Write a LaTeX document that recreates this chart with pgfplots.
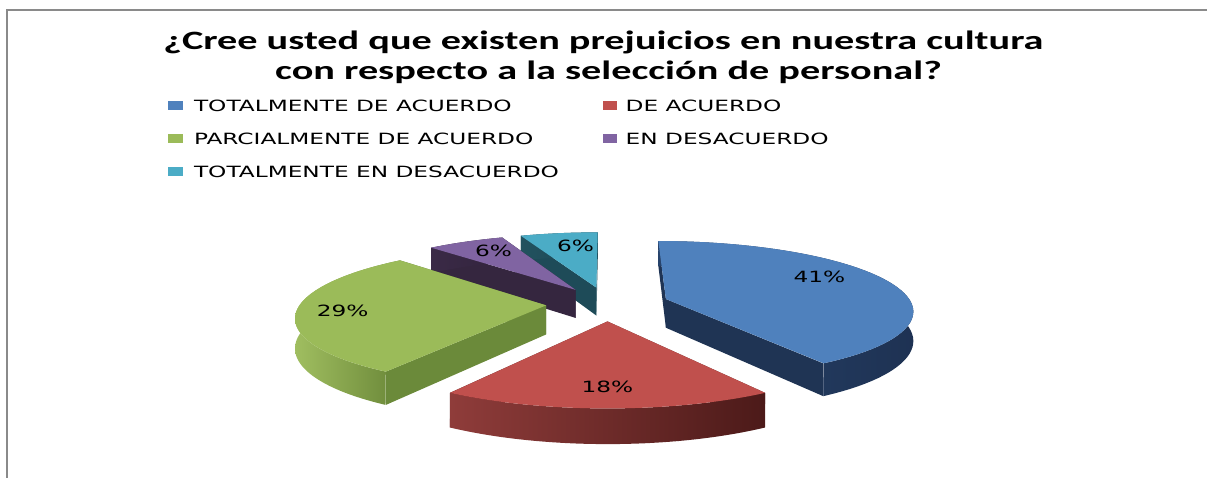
\documentclass[border=0pt]{standalone}
\usepackage{fontspec}
\usepackage{pgfplots}
\pgfplotsset{compat=1.18}
\usepackage{pgfplotstable}
\newfontfamily\titlefont[FakeStretch=1.52]{Carlito}
\newfontfamily\legfont[FakeStretch=1.5]{DejaVu Sans}

\definecolor{topA}{HTML}{4F81BD}\definecolor{sideA}{HTML}{1F3454}\definecolor{wlA}{HTML}{27436B}\definecolor{wrA}{HTML}{1E3253}
\definecolor{topB}{HTML}{C0504D}\definecolor{sideB}{HTML}{5E2322}\definecolor{wlB}{HTML}{8F3C3A}\definecolor{wrB}{HTML}{4C1A19}
\definecolor{topC}{HTML}{9BBB59}\definecolor{sideC}{HTML}{6B8A3A}\definecolor{wlC}{HTML}{A0BE60}\definecolor{wrC}{HTML}{6A8738}
\definecolor{topD}{HTML}{8064A2}\definecolor{sideD}{HTML}{35263F}\definecolor{wlD}{HTML}{3A2A46}\definecolor{wrD}{HTML}{33243E}
\definecolor{topE}{HTML}{4BACC6}\definecolor{sideE}{HTML}{1E4B58}\definecolor{wlE}{HTML}{22525F}\definecolor{wrE}{HTML}{1D4652}
\definecolor{frame}{HTML}{8A8A8A}

% values (percent) and label positions
\pgfplotstableread{
val lx ly
41 820 277
18 608 387
29 343 311
6 494 251
6 576 246
}\piedata

\newcommand\SA[1]{\csname sA#1\endcsname}
\newcommand\SB[1]{\csname sB#1\endcsname}
\newcommand\SU[1]{\csname sU#1\endcsname}
\newcommand\SV[1]{\csname sV#1\endcsname}
\newcommand\ANG[2]{(\SA{#1}+(\SB{#1}-\SA{#1})*(#2))}
\newcommand\XR[2]{PX(\SU{#1}+cos(#2),\SV{#1}+sin(#2))}
\newcommand\YR[3]{PY(\SU{#1}+cos(#2),\SV{#1}+sin(#2),#3)}
\newcommand\XC[1]{PX(\SU{#1},\SV{#1})}
\newcommand\YC[2]{PY(\SU{#1},\SV{#1},#2)}

\newcommand\slice[5]{%
 \fill[#3] ({\XC{#1}},{\YC{#1}{0}}) -- ({\XR{#1}{\SA{#1}}},{\YR{#1}{\SA{#1}}{0}}) -- ({\XR{#1}{\SA{#1}}},{\YR{#1}{\SA{#1}}{1}}) -- ({\XC{#1}},{\YC{#1}{1}}) -- cycle;
 \fill[#3] ({\XC{#1}},{\YC{#1}{0}}) -- ({\XR{#1}{\SB{#1}}},{\YR{#1}{\SB{#1}}{0}}) -- ({\XR{#1}{\SB{#1}}},{\YR{#1}{\SB{#1}}{1}}) -- ({\XC{#1}},{\YC{#1}{1}}) -- cycle;
 \shade[left color=#4,right color=#5] plot[domain=0:1,samples=60,variable=\t] ({\XR{#1}{\ANG{#1}{\t}}},{\YR{#1}{\ANG{#1}{\t}}{0}}) -- plot[domain=0:1,samples=60,variable=\t] ({\XR{#1}{\ANG{#1}{1-\t}}},{\YR{#1}{\ANG{#1}{1-\t}}{1}}) -- cycle;
 \fill[#2] ({\XC{#1}},{\YC{#1}{0}}) -- plot[domain=0:1,samples=60,variable=\t] ({\XR{#1}{\ANG{#1}{\t}}},{\YR{#1}{\ANG{#1}{\t}}{0}}) -- cycle;
}
\newcommand\plabel[1]{\node[font=\legfont\fontsize{15.5}{18}\selectfont,inner sep=0pt] at ({\csname sX#1\endcsname},{\csname sY#1\endcsname}) {\csname sT#1\endcsname\%};}

\begin{document}
\begin{tikzpicture}[declare function={PX(\u,\v)=608+246*(\u)/(1+0.15*(\v));PY(\u,\v,\d)=304+(-68.1*(\v)+29*(\d))/(1+0.15*(\v));}]
\gdef\cum{0}%
\foreach \i in {0,...,4}{%
 \pgfplotstablegetelem{\i}{val}\of\piedata
 \let\myval\pgfplotsretval
 \expandafter\xdef\csname sT\i\endcsname{\myval}%
 \pgfmathsetmacro\aone{90-3.6*\cum}%
 \pgfmathsetmacro\atwo{\aone-3.6*\myval}%
 \pgfmathsetmacro\amid{(\aone+\atwo)/2}%
 \pgfmathsetmacro\ou{0.25*cos(\amid)}%
 \pgfmathsetmacro\ov{0.25*sin(\amid)}%
 \expandafter\xdef\csname sA\i\endcsname{\aone}%
 \expandafter\xdef\csname sB\i\endcsname{\atwo}%
 \expandafter\xdef\csname sU\i\endcsname{\ou}%
 \expandafter\xdef\csname sV\i\endcsname{\ov}%
 \pgfplotstablegetelem{\i}{lx}\of\piedata
 \expandafter\xdef\csname sX\i\endcsname{\pgfplotsretval}%
 \pgfplotstablegetelem{\i}{ly}\of\piedata
 \expandafter\xdef\csname sY\i\endcsname{\pgfplotsretval}%
 \pgfmathsetmacro\nc{\cum+\myval}\xdef\cum{\nc}%
}
\begin{axis}[width=1208pt,height=478pt,scale only axis,hide axis,clip=false,
  xmin=0,xmax=1208,ymin=0,ymax=478,y dir=reverse]
\path (0,0) rectangle (1208,478);
\draw[frame,line width=2pt] (7.5,478) -- (7.5,10) -- (1208,10);
% title
\node[font=\titlefont\bfseries\fontsize{26.5}{30}\selectfont,anchor=base,inner sep=0pt] at (604,49.5) {¿Cree usted que existen prejuicios en nuestra cultura};
\node[font=\titlefont\bfseries\fontsize{26.5}{30}\selectfont,anchor=base,inner sep=0pt] at (609,79.5) {con respecto a la selección de personal?};
% legend
\fill[topA] (168,101.5) rectangle (183,110.5);
\node[font=\legfont\fontsize{15.5}{18}\selectfont,anchor=west,inner sep=0pt] at (194,106) {TOTALMENTE DE ACUERDO};
\fill[topB] (603,101.5) rectangle (618,110.5);
\node[font=\legfont\fontsize{15.5}{18}\selectfont,anchor=west,inner sep=0pt] at (626,106) {DE ACUERDO};
\fill[topC] (168,134.5) rectangle (183,143.5);
\node[font=\legfont\fontsize{15.5}{18}\selectfont,anchor=west,inner sep=0pt] at (194,139) {PARCIALMENTE DE ACUERDO};
\fill[topD] (603,134.5) rectangle (618,143.5);
\node[font=\legfont\fontsize{15.5}{18}\selectfont,anchor=west,inner sep=0pt] at (626,139) {EN DESACUERDO};
\fill[topE] (168,167.5) rectangle (183,176.5);
\node[font=\legfont\fontsize{15.5}{18}\selectfont,anchor=west,inner sep=0pt] at (194,172) {TOTALMENTE EN DESACUERDO};
% pie slices, back to front
\slice{4}{topE}{sideE}{wlE}{wrE}
\slice{3}{topD}{sideD}{wlD}{wrD}
\slice{0}{topA}{sideA}{wlA}{wrA}
\slice{2}{topC}{sideC}{wlC}{wrC}
\slice{1}{topB}{sideB}{wlB}{wrB}
\plabel{0}\plabel{1}\plabel{2}\plabel{3}\plabel{4}
\end{axis}
\end{tikzpicture}
\end{document}
